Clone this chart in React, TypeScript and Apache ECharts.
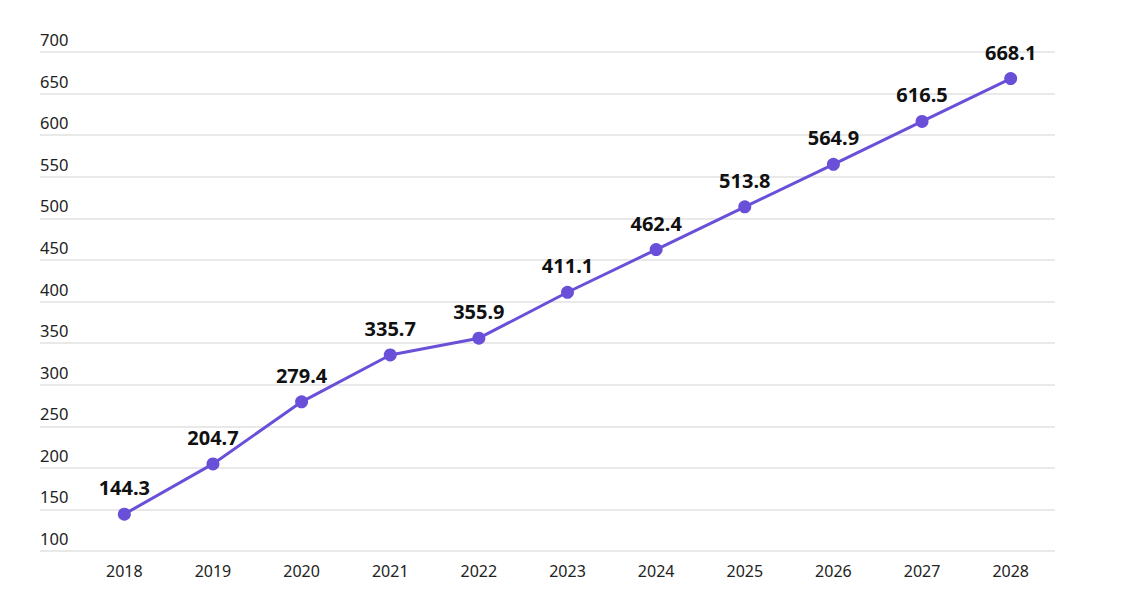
import React, { useEffect, useRef } from "react";
import * as echarts from "echarts";

const years = ["2018", "2019", "2020", "2021", "2022", "2023", "2024", "2025", "2026", "2027", "2028"];
const values = [144.3, 204.7, 279.4, 335.7, 355.9, 411.1, 462.4, 513.8, 564.9, 616.5, 668.1];
const yMin = 100;
const yMax = 700;
const yStep = 50;

export default function App() {
  const ref = useRef<HTMLDivElement>(null);
  useEffect(() => {
    if (!ref.current) return;
    const chart = echarts.init(ref.current, null, { renderer: "svg" });
    const font = "'Noto Sans', sans-serif";
    chart.setOption({
      animation: false,
      backgroundColor: "#ffffff",
      grid: [
        { left: 32, right: 60, top: 44, bottom: 57 },
        { left: 72, width: 975, top: 44, bottom: 57 },
      ],
      xAxis: [
        { gridIndex: 0, type: "value", show: false, min: 0, max: 1 },
        {
          gridIndex: 1,
          type: "category",
          data: years,
          boundaryGap: true,
          axisLine: { show: false },
          axisTick: { show: false },
          axisLabel: { color: "#222", fontSize: 16, fontFamily: font, margin: 12 },
        },
      ],
      yAxis: [
        {
          gridIndex: 0,
          type: "value",
          min: yMin,
          max: yMax,
          interval: yStep,
          axisLine: { show: false },
          axisTick: { show: false },
          splitLine: { lineStyle: { color: "#e2e2e2", width: 1.5 } },
          axisLabel: {
            inside: true,
            verticalAlign: "bottom",
            align: "left",
            margin: 0,
            padding: [0, 0, 4, 0],
            color: "#222",
            fontSize: 16.5,
            fontFamily: font,
          },
        },
        { gridIndex: 1, type: "value", min: yMin, max: yMax, interval: yStep, show: false },
      ],
      series: [
        {
          type: "line",
          xAxisIndex: 1,
          yAxisIndex: 1,
          data: values,
          symbol: "circle",
          symbolSize: 13,
          lineStyle: { color: "#6a50d8", width: 3 },
          itemStyle: { color: "#6a50d8" },
          label: {
            show: true,
            position: "top",
            distance: 10,
            color: "#111",
            fontSize: 20,
            fontWeight: "bold",
            fontFamily: font,
            formatter: (p: any) => p.value.toFixed(1),
          },
        },
      ],
    });
    return () => chart.dispose();
  }, []);
  return <div ref={ref} style={{ width: 1107, height: 600 }} />;
}
